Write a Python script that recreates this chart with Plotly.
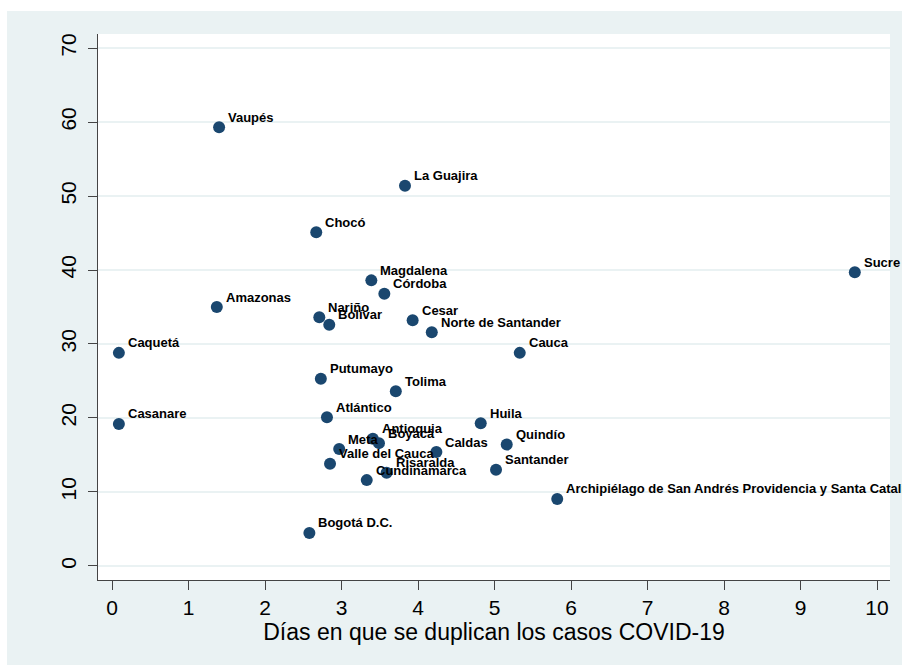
import plotly.graph_objects as go

departamentos = ["Vaupés", "La Guajira", "Chocó", "Sucre", "Magdalena", "Córdoba", "Amazonas",
                 "Nariño", "Bolívar", "Cesar", "Norte de Santander", "Caquetá", "Cauca", "Putumayo",
                 "Tolima", "Atlántico", "Casanare", "Huila", "Antioquia", "Boyacá", "Meta", "Caldas",
                 "Quindío", "Valle del Cauca", "Risaralda", "Cundinamarca", "Santander",
                 "Archipiélago de San Andrés Providencia y Santa Catalina", "Bogotá D.C."]
dias = [1.40, 3.83, 2.67, 9.71, 3.39, 3.56, 1.37,
        2.71, 2.84, 3.93, 4.18, 0.09, 5.33, 2.73,
        3.71, 2.81, 0.09, 4.82, 3.41, 3.49, 2.97, 4.24,
        5.16, 2.85, 3.59, 3.33, 5.02,
        5.82, 2.58]
valores = [59.3, 51.4, 45.1, 39.7, 38.6, 36.8, 35.0,
           33.6, 32.6, 33.2, 31.6, 28.8, 28.8, 25.3,
           23.6, 20.1, 19.2, 19.3, 17.2, 16.6, 15.8, 15.4,
           16.4, 13.8, 12.6, 11.6, 13.0,
           9.05, 4.46]

x_ticks = list(range(0, 11))
y_ticks = list(range(0, 71, 10))
x_title = "Días en que se duplican los casos COVID-19"

BG = "#EAF2F3"
NAVY = "#1A476F"
FONT = "Liberation Sans, Arial, sans-serif"

fig = go.Figure()
fig.add_trace(go.Scatter(
    x=dias, y=valores, mode="markers",
    marker=dict(size=12, color=NAVY, line=dict(width=0)),
    cliponaxis=False, hoverinfo="text", text=departamentos,
))

annotations = [
    dict(x=xv, y=yv, text=f"<b>{name}</b>", showarrow=False, xanchor="left", yanchor="middle",
         xshift=7, yshift=10, font=dict(family=FONT, size=13, color="black"))
    for name, xv, yv in zip(departamentos, dias, valores)
]

W, H = 902, 665
ml, mr, mt, mb = 98, 12, 34, 85
pw, ph = W - ml - mr, H - mt - mb

def px_to_paper_x(p):
    return (p - ml) / pw

def px_to_paper_y(p):
    return (H - mb - p) / ph

shapes = [
    dict(type="rect", xref="paper", yref="paper", layer="below",
         x0=px_to_paper_x(7), x1=px_to_paper_x(W + 2), y0=px_to_paper_y(H + 2), y1=px_to_paper_y(11),
         fillcolor=BG, line=dict(width=0)),
    dict(type="rect", xref="paper", yref="paper", layer="below",
         x0=0, x1=1, y0=0, y1=1, fillcolor="white", line=dict(width=0)),
]

fig.update_layout(
    width=W, height=H,
    margin=dict(l=ml, r=mr, t=mt, b=mb),
    paper_bgcolor="white", plot_bgcolor="white",
    showlegend=False,
    shapes=shapes, annotations=annotations,
    font=dict(family=FONT, color="black"),
)
fig.update_xaxes(
    range=[-0.183, 10.17], tickvals=x_ticks, ticktext=[str(v) for v in x_ticks],
    showgrid=False, zeroline=False, automargin=False,
    showline=True, linecolor="#444", linewidth=1,
    ticks="outside", ticklen=9, tickcolor="#444", tickwidth=1,
    tickfont=dict(family=FONT, size=21, color="black"),
    title=dict(text=x_title, font=dict(family=FONT, size=23, color="black"), standoff=0),
)
fig.update_yaxes(
    range=[-1.9, 71.9], tickvals=y_ticks, ticktext=[str(v) for v in y_ticks],
    showgrid=True, gridcolor=BG, gridwidth=2, zeroline=False, automargin=False,
    showline=True, linecolor="#444", linewidth=1,
    ticks="outside", ticklen=9, tickcolor="#444", tickwidth=1,
    tickangle=-90, ticklabelstandoff=4,
    tickfont=dict(family=FONT, size=21, color="black"),
)

fig.write_html(
    "out.html",
    config={"displayModeBar": False},
    post_script="document.body.style.margin='0';document.body.style.overflow='hidden';",
)
